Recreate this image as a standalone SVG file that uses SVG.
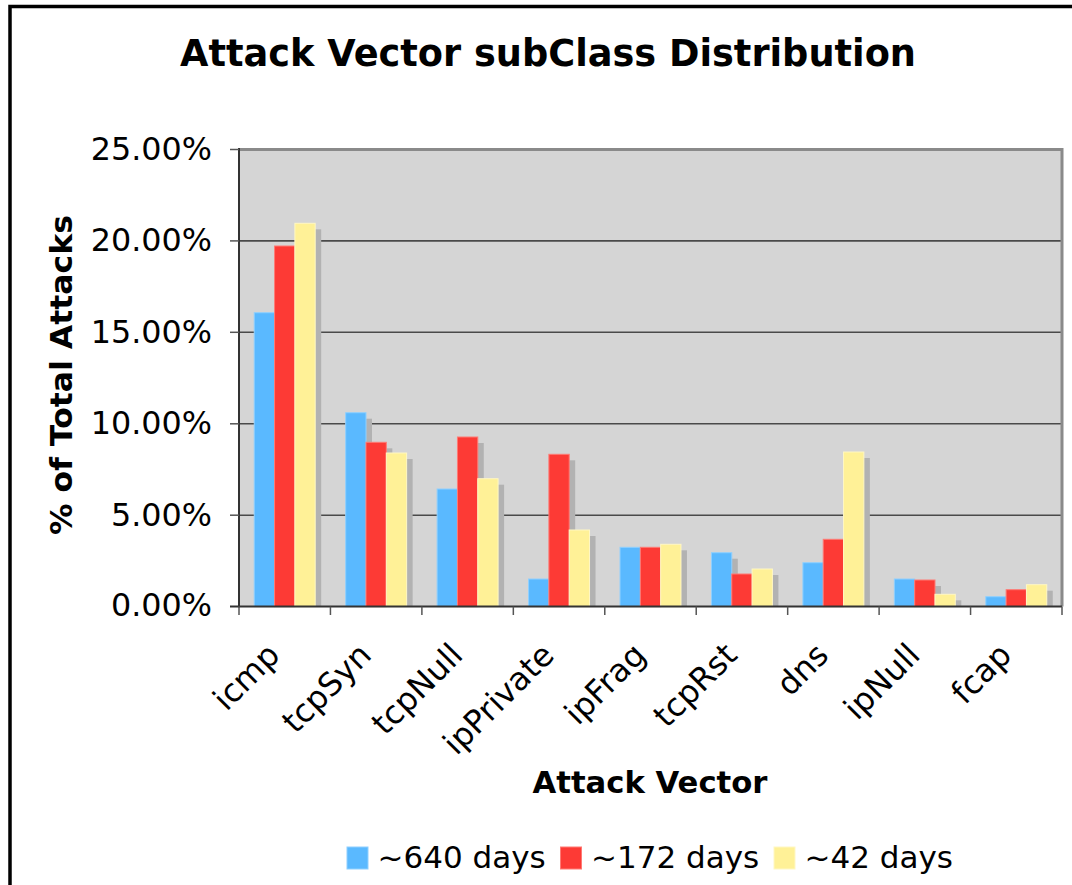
<svg xmlns="http://www.w3.org/2000/svg" width="1072" height="885" viewBox="0 0 1072 885">
<style>
text{font-family:"DejaVu Sans","Liberation Sans",sans-serif;fill:#000}
.t{font-weight:bold}
.yl{font-size:31.8px;text-anchor:end}
.xl{font-size:32px;text-anchor:end}
.lg{font-size:31px}
.grid{stroke:#4a4a4a;stroke-width:1.6}
.sh{fill:#b2b2b2}
.b1{fill:#5ab9ff;stroke:#8fd0ff;stroke-width:1}
.b2{fill:#fd3a35;stroke:#ff7a74;stroke-width:1}
.b3{fill:#fff197;stroke:#fff7c4;stroke-width:1}
.tick{stroke:#555;stroke-width:1.5}
</style>
<rect x="0" y="0" width="1072" height="885" fill="#fff"/>
<rect x="10" y="6.5" width="1100" height="920" fill="none" stroke="#000" stroke-width="3.5"/>
<text class="t" x="548" y="66" font-size="37" text-anchor="middle" textLength="736" lengthAdjust="spacingAndGlyphs">Attack Vector subClass Distribution</text>
<g id="plot">
<rect x="239" y="149.5" width="823" height="457.1" fill="#d5d5d5"/>
<line class="grid" x1="239" y1="240.9" x2="1062" y2="240.9"/>
<line class="grid" x1="239" y1="332.3" x2="1062" y2="332.3"/>
<line class="grid" x1="239" y1="423.8" x2="1062" y2="423.8"/>
<line class="grid" x1="239" y1="515.2" x2="1062" y2="515.2"/>
</g>
<g id="shadows">
<rect class="sh" x="260.24" y="318.7" width="20.32" height="287.9"/>
<rect class="sh" x="280.56" y="252" width="20.32" height="354.6"/>
<rect class="sh" x="300.88" y="229.3" width="20.32" height="377.3"/>
<rect class="sh" x="351.68" y="418.7" width="20.32" height="187.9"/>
<rect class="sh" x="372" y="448.3" width="20.32" height="158.3"/>
<rect class="sh" x="392.32" y="459" width="20.32" height="147.6"/>
<rect class="sh" x="443.13" y="495" width="20.32" height="111.6"/>
<rect class="sh" x="463.45" y="443" width="20.32" height="163.6"/>
<rect class="sh" x="483.77" y="484.7" width="20.32" height="121.9"/>
<rect class="sh" x="534.57" y="585" width="20.32" height="21.6"/>
<rect class="sh" x="554.89" y="460.3" width="20.32" height="146.3"/>
<rect class="sh" x="575.21" y="536" width="20.32" height="70.6"/>
<rect class="sh" x="626.02" y="553.3" width="20.32" height="53.3"/>
<rect class="sh" x="646.34" y="553.3" width="20.32" height="53.3"/>
<rect class="sh" x="666.66" y="550.3" width="20.32" height="56.3"/>
<rect class="sh" x="717.46" y="558.7" width="20.32" height="47.9"/>
<rect class="sh" x="737.78" y="580" width="20.32" height="26.6"/>
<rect class="sh" x="758.1" y="575" width="20.32" height="31.6"/>
<rect class="sh" x="808.91" y="568.7" width="20.32" height="37.9"/>
<rect class="sh" x="829.23" y="545.3" width="20.32" height="61.3"/>
<rect class="sh" x="849.55" y="458" width="20.32" height="148.6"/>
<rect class="sh" x="900.35" y="585" width="20.32" height="21.6"/>
<rect class="sh" x="920.67" y="586" width="20.32" height="20.6"/>
<rect class="sh" x="940.99" y="600.3" width="20.32" height="6.3"/>
<rect class="sh" x="991.8" y="602.7" width="20.32" height="3.9"/>
<rect class="sh" x="1012.12" y="595.7" width="20.32" height="10.9"/>
<rect class="sh" x="1032.44" y="590.7" width="20.32" height="15.9"/>
</g>
<g id="bars">
<rect class="b1" x="254.24" y="312.7" width="20.32" height="293.9"/>
<rect class="b2" x="274.56" y="246" width="20.32" height="360.6"/>
<rect class="b3" x="294.88" y="223.3" width="20.32" height="383.3"/>
<rect class="b1" x="345.68" y="412.7" width="20.32" height="193.9"/>
<rect class="b2" x="366" y="442.3" width="20.32" height="164.3"/>
<rect class="b3" x="386.32" y="453" width="20.32" height="153.6"/>
<rect class="b1" x="437.13" y="489" width="20.32" height="117.6"/>
<rect class="b2" x="457.45" y="437" width="20.32" height="169.6"/>
<rect class="b3" x="477.77" y="478.7" width="20.32" height="127.9"/>
<rect class="b1" x="528.57" y="579" width="20.32" height="27.6"/>
<rect class="b2" x="548.89" y="454.3" width="20.32" height="152.3"/>
<rect class="b3" x="569.21" y="530" width="20.32" height="76.6"/>
<rect class="b1" x="620.02" y="547.3" width="20.32" height="59.3"/>
<rect class="b2" x="640.34" y="547.3" width="20.32" height="59.3"/>
<rect class="b3" x="660.66" y="544.3" width="20.32" height="62.3"/>
<rect class="b1" x="711.46" y="552.7" width="20.32" height="53.9"/>
<rect class="b2" x="731.78" y="574" width="20.32" height="32.6"/>
<rect class="b3" x="752.1" y="569" width="20.32" height="37.6"/>
<rect class="b1" x="802.91" y="562.7" width="20.32" height="43.9"/>
<rect class="b2" x="823.23" y="539.3" width="20.32" height="67.3"/>
<rect class="b3" x="843.55" y="452" width="20.32" height="154.6"/>
<rect class="b1" x="894.35" y="579" width="20.32" height="27.6"/>
<rect class="b2" x="914.67" y="580" width="20.32" height="26.6"/>
<rect class="b3" x="934.99" y="594.3" width="20.32" height="12.3"/>
<rect class="b1" x="985.8" y="596.7" width="20.32" height="9.9"/>
<rect class="b2" x="1006.12" y="589.7" width="20.32" height="16.9"/>
<rect class="b3" x="1026.44" y="584.7" width="20.32" height="21.9"/>
</g>
<g id="axes">
<line x1="239" y1="149.5" x2="1062" y2="149.5" stroke="#8a8a8a" stroke-width="3"/>
<line x1="1062" y1="148" x2="1062" y2="606.6" stroke="#8a8a8a" stroke-width="3"/>
<line x1="239" y1="148" x2="239" y2="607.5" stroke="#333" stroke-width="2"/>
<line x1="230" y1="606.6" x2="1062" y2="606.6" stroke="#333" stroke-width="2"/>
<line class="tick" x1="230" y1="149.5" x2="239" y2="149.5"/>
<line class="tick" x1="230" y1="240.9" x2="239" y2="240.9"/>
<line class="tick" x1="230" y1="332.3" x2="239" y2="332.3"/>
<line class="tick" x1="230" y1="423.8" x2="239" y2="423.8"/>
<line class="tick" x1="230" y1="515.2" x2="239" y2="515.2"/>
<line class="tick" x1="239" y1="606.6" x2="239" y2="615"/>
<line class="tick" x1="330.44" y1="606.6" x2="330.44" y2="615"/>
<line class="tick" x1="421.89" y1="606.6" x2="421.89" y2="615"/>
<line class="tick" x1="513.33" y1="606.6" x2="513.33" y2="615"/>
<line class="tick" x1="604.78" y1="606.6" x2="604.78" y2="615"/>
<line class="tick" x1="696.22" y1="606.6" x2="696.22" y2="615"/>
<line class="tick" x1="787.67" y1="606.6" x2="787.67" y2="615"/>
<line class="tick" x1="879.11" y1="606.6" x2="879.11" y2="615"/>
<line class="tick" x1="970.56" y1="606.6" x2="970.56" y2="615"/>
<line class="tick" x1="1062" y1="606.6" x2="1062" y2="615"/>
</g>
<g id="ylabels">
<text class="yl" x="212" y="160">25.00%</text>
<text class="yl" x="212" y="251">20.00%</text>
<text class="yl" x="212" y="342.5">15.00%</text>
<text class="yl" x="212" y="434">10.00%</text>
<text class="yl" x="212" y="525.5">5.00%</text>
<text class="yl" x="212" y="616">0.00%</text>
</g>
<g id="xlabels">
<text class="xl" transform="translate(281.7,657) rotate(-45)">icmp</text>
<text class="xl" transform="translate(373.2,657) rotate(-45)">tcpSyn</text>
<text class="xl" transform="translate(464.6,657) rotate(-45)">tcpNull</text>
<text class="xl" transform="translate(556,657) rotate(-45)">ipPrivate</text>
<text class="xl" transform="translate(647.5,657) rotate(-45)">ipFrag</text>
<text class="xl" transform="translate(738.9,657) rotate(-45)">tcpRst</text>
<text class="xl" transform="translate(830.4,657) rotate(-45)">dns</text>
<text class="xl" transform="translate(921.8,657) rotate(-45)">ipNull</text>
<text class="xl" transform="translate(1013.3,657) rotate(-45)">fcap</text>
</g>
<text class="t" x="72" y="375" font-size="31" text-anchor="middle" transform="rotate(-90 72 375)" textLength="320" lengthAdjust="spacingAndGlyphs">% of Total Attacks</text>
<text class="t" x="650" y="793" font-size="30" text-anchor="middle" textLength="235" lengthAdjust="spacingAndGlyphs">Attack Vector</text>
<g id="legend">
<rect class="b1" x="347" y="847" width="21" height="22"/>
<text class="lg" x="377.5" y="868">~640 days</text>
<rect class="b2" x="560.5" y="847" width="21" height="22"/>
<text class="lg" x="591" y="868">~172 days</text>
<rect class="b3" x="774" y="847" width="21" height="22"/>
<text class="lg" x="804.5" y="868">~42 days</text>
</g>
</svg>
